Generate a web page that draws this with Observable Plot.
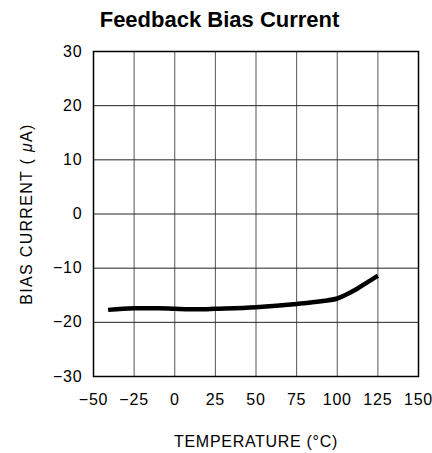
<!DOCTYPE html>
<html>
<head>
<meta charset="utf-8">
<script src="https://cdn.jsdelivr.net/npm/d3@7"></script>
<script src="https://cdn.jsdelivr.net/npm/@observablehq/plot@0.6"></script>
<style>
  html, body { margin: 0; padding: 0; background: white; }
</style>
</head>
<body>
<div id="chart"></div>
<script>
const temperature = [-41, -25, -10, 0, 15, 25, 50, 75, 90, 100, 105, 112, 118, 125];
const biasCurrent = [-17.7, -17.4, -17.4, -17.5, -17.6, -17.5, -17.2, -16.6, -16.1, -15.6, -14.95, -13.85, -12.7, -11.4];
const xTicks = [-50, -25, 0, 25, 50, 75, 100, 125, 150];
const yTicks = [-30, -20, -10, 0, 10, 20, 30];
const titleText = "Feedback Bias Current";
const xLabel = "TEMPERATURE (°C)";
const yLabel = "BIAS CURRENT (μA)";

const data = temperature.map((t, i) => ({t, c: biasCurrent[i]}));
const fmt = d => (d < 0 ? "\u2212" + Math.abs(d) : String(d));

const chart = Plot.plot({
  width: 432,
  height: 453,
  marginLeft: 93,
  marginRight: 14,
  marginTop: 51,
  marginBottom: 77,
  style: {fontFamily: "Liberation Sans, Arial, sans-serif", fontSize: "16px", background: "white", color: "black"},
  x: {domain: [-50, 150], ticks: xTicks, tickFormat: fmt},
  y: {domain: [-30, 30], ticks: yTicks, tickFormat: fmt},
  marks: [
    Plot.gridX(xTicks, {stroke: "#555", strokeOpacity: 1, strokeWidth: 1}),
    Plot.gridY(yTicks, {stroke: "#222", strokeOpacity: 1, strokeWidth: 1}),
    Plot.frame({stroke: "black", strokeWidth: 1.5}),
    Plot.line(data, {x: "t", y: "c", curve: "monotone-x", stroke: "black", strokeWidth: 4.5, strokeLinecap: "butt"}),
    Plot.axisX({ticks: xTicks, tickFormat: fmt, tickSize: 0, tickPadding: 17, label: null, fontSize: 16}),
    Plot.axisY({ticks: yTicks, tickFormat: fmt, tickSize: 0, tickPadding: 11, label: null, fontSize: 16}),
    Plot.text([titleText], {frameAnchor: "top", dx: -36.5, dy: -31.5, lineAnchor: "middle", textAnchor: "middle", fontWeight: "bold", fontSize: 22, fontFamily: "Liberation Sans, Arial, sans-serif"}),
    Plot.text([xLabel], {frameAnchor: "bottom", dy: 65, lineAnchor: "middle", textAnchor: "middle", fontSize: 16}),
    Plot.text([yLabel], {frameAnchor: "left", dx: -67, rotate: -90, lineAnchor: "middle", textAnchor: "middle", fontSize: 16})
  ]
});
// typographic adjustments: wider letter spacing as in the reference
d3.select(chart).selectAll("text").each(function() {
  const t = d3.select(this);
  const s = t.text();
  if (s === xLabel) t.attr("letter-spacing", "0.7px");
  else if (s === yLabel) {
    t.attr("letter-spacing", "1.3px");
    t.text(null);
    t.append("tspan").text("BIAS CURRENT ( ");
    t.append("tspan").attr("font-style", "italic").text("μ");
    t.append("tspan").text("A)");
  } else if (s !== titleText) t.attr("letter-spacing", "0.8px");
});
document.getElementById("chart").appendChild(chart);
</script>
</body>
</html>
